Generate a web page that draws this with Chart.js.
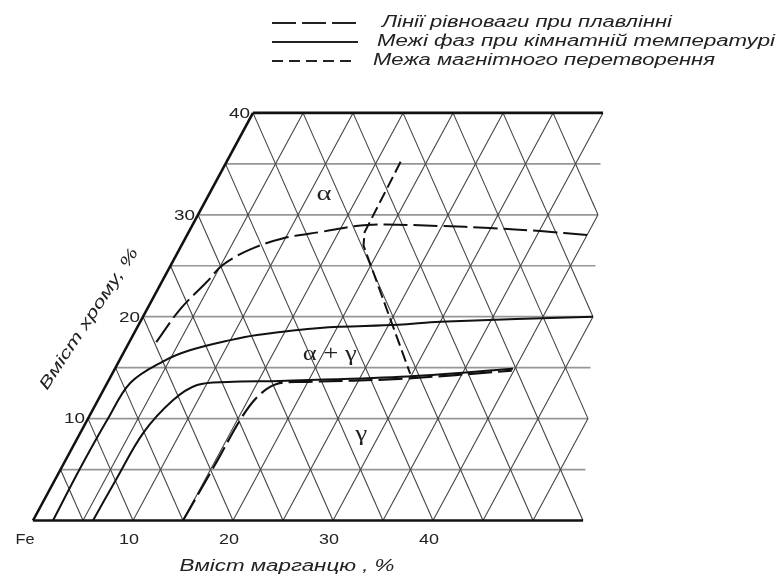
<!DOCTYPE html>
<html>
<head>
<meta charset="utf-8">
<script src="https://cdn.jsdelivr.net/npm/chart.js@4"></script>
<style>
  html, body { margin: 0; padding: 0; background: #fff; }
  #wrap { width: 779px; height: 579px; position: relative; }
</style>
</head>
<body>
<div id="wrap"><canvas id="phaseChart"></canvas></div>
<script>
// Fe-Cr-Mn diagram: Mn % along the bottom, Cr % along the slanted left side

// grid levels
const crLevels = [0, 5, 10, 15, 20, 25, 30, 35, 40];
const mnLevels = [0, 5, 10, 15, 20, 25, 30, 35, 40, 45, 50];
const sumLevels = [5, 10, 15, 20, 25, 30, 35, 40, 45, 50, 55, 60, 65, 70]; // lines Mn + Cr = const
const edgeLimit = 55; // right edge of the grid: Mn + Cr/2 = 55

// tick labels
const crTicks = [10, 20, 30, 40];
const crTickLabels = ["10", "20", "30", "40"];
const mnTicks = [0, 10, 20, 30, 40];
const mnTickLabels = ["Fe", "10", "20", "30", "40"];

// melting equilibrium lines (long dash)
const meltUpperMn = [2.7, 3.3, 4.5, 5.2, 7.1, 9.8, 13.1, 17.5, 24.8, 29.9, 35.1, 40.1];
const meltUpperCr = [17.5, 20.7, 23.4, 25.1, 26.6, 27.7, 28.3, 29.0, 28.9, 28.7, 28.4, 28.0];
const meltLowerMn = [15.0, 15.2, 15.3, 15.8, 17.0, 20.0, 29.0, 39.8];
const meltLowerCr = [0, 6, 10, 12.2, 13.4, 13.6, 13.9, 14.7];

// phase boundaries at room temperature (solid)
const roomOuterMn = [2.0, 1.9, 2.0, 2.3, 4.4, 6.5, 10.0, 12.4, 18.3, 26.0, 30.0, 45.0];
const roomOuterCr = [0, 5, 10, 13.5, 15.6, 16.7, 17.7, 18.2, 18.9, 19.2, 19.5, 20.0];
const roomInnerMn = [6.0, 6.1, 6.3, 7.5, 9.1, 12.0, 17.2, 29.0, 39.8];
const roomInnerCr = [0, 4, 8.6, 11.8, 13.3, 13.6, 13.7, 14.1, 14.9];

// magnetic transformation (short dash)
const magMn = [17.4, 17.6, 18.2, 29.8];
const magCr = [35.2, 28.3, 27.0, 14.4];

// phase field labels
const phaseLabels = ["α", "α + γ", "γ"];
const phaseMn = [11.5, 20.7, 28.2];
const phaseCr = [32.0, 16.3, 8.4];

// slanted axes -> plain x/y
const skew = 0.55;
function xy(mn, cr) {
  return { x: mn + skew * cr, y: cr };
}
function series(mns, crs) {
  return mns.map((m, i) => xy(m, crs[i]));
}

// pixel frame: Fe corner at (33, 520.5), 10 px per % Mn, 10.19 px per % Cr
const frame = { x0: 33, y0: 520.5, sx: 10, sy: 10.19, w: 779, h: 579 };

function seg(points, color, width, order, dash) {
  return {
    data: points,
    showLine: true,
    borderColor: color,
    borderWidth: width,
    borderDash: dash || [],
    pointRadius: 0,
    tension: 0,
    fill: false,
    order: order,
  };
}

const datasets = [];

// horizontal lines (constant Cr)
crLevels.forEach((cr) => {
  const edge = cr === 0 || cr === 40;
  datasets.push(seg([xy(0, cr), xy(edgeLimit - cr / 2, cr)],
    edge ? "#111" : "#969696", edge ? 2.6 : 1.7, edge ? 1 : 4));
});

// lines of constant Mn (parallel to the Cr side)
mnLevels.forEach((mn) => {
  const top = Math.min(40, 2 * (edgeLimit - mn));
  const edge = mn === 0;
  datasets.push(seg([xy(mn, 0), xy(mn, top)],
    edge ? "#111" : "#444", edge ? 2.6 : 1.1, edge ? 1 : 3));
});

// lines of constant Mn + Cr
sumLevels.forEach((s) => {
  const lo = Math.max(0, 2 * (s - edgeLimit));
  const hi = Math.min(40, s);
  if (hi <= lo) return;
  datasets.push(seg([xy(s - lo, lo), xy(s - hi, hi)], "#444", 1.1, 3));
});

// curves
const meltDash = [24, 6];
const magDash = [12, 5];
datasets.push(Object.assign(seg(series(meltUpperMn, meltUpperCr), "#111", 2, 0, meltDash), { tension: 0.35 }));
datasets.push(Object.assign(seg(series(meltLowerMn, meltLowerCr), "#111", 2.2, 0, meltDash), { tension: 0.35 }));
datasets.push(Object.assign(seg(series(roomOuterMn, roomOuterCr), "#111", 2, 0), { tension: 0.35 }));
datasets.push(Object.assign(seg(series(roomInnerMn, roomInnerCr), "#111", 2, 0), { tension: 0.35 }));
datasets.push(seg(series(magMn, magCr), "#111", 2, 0, magDash));

function fitText(ctx, text, x, y, width, font, align) {
  ctx.save();
  ctx.font = font;
  const s = width / ctx.measureText(text).width;
  ctx.translate(x, y);
  ctx.scale(s, 1);
  ctx.textAlign = align;
  ctx.textBaseline = "middle";
  ctx.fillText(text, 0, 0);
  ctx.restore();
}

const labelsPlugin = {
  id: "phaseText",
  afterDraw(chart) {
    const ctx = chart.ctx;
    const sx = chart.scales.x;
    const sy = chart.scales.y;
    const px = (p) => [sx.getPixelForValue(p.x), sy.getPixelForValue(p.y)];
    ctx.save();
    ctx.fillStyle = "#222";

    // legend
    const legendRows = [
      { text: "Лінії рівноваги при плавлінні", y: 23, tx: 382, tw: 290, dash: meltDash, x2: 358 },
      { text: "Межі фаз при кімнатній температурі", y: 42, tx: 377, tw: 398, dash: [], x2: 358 },
      { text: "Межа магнітного перетворення", y: 61, tx: 373, tw: 342, dash: [11, 6], x2: 352 },
    ];
    legendRows.forEach((r) => {
      ctx.save();
      ctx.strokeStyle = "#222";
      ctx.lineWidth = 2;
      ctx.setLineDash(r.dash);
      ctx.beginPath();
      ctx.moveTo(272, r.y);
      ctx.lineTo(r.x2, r.y);
      ctx.stroke();
      ctx.restore();
      fitText(ctx, r.text, r.tx, r.y, r.tw, "italic 16px 'Liberation Sans', Arial, sans-serif", "left");
    });

    // Cr ticks on the slanted side
    crTicks.forEach((cr, i) => {
      const [x, y] = px(xy(0, cr));
      fitText(ctx, crTickLabels[i], x - 3, y + 1, 21, "14px 'Liberation Sans', Arial, sans-serif", "right");
    });

    // Mn ticks under the base
    mnTicks.forEach((mn, i) => {
      const [x] = px(xy(mn, 0));
      const w = mnTickLabels[i] === "Fe" ? 19 : 20;
      const off = mnTickLabels[i] === "Fe" ? -8 : -4;
      fitText(ctx, mnTickLabels[i], x + off, 540, w, "14px 'Liberation Sans', Arial, sans-serif", "center");
    });

    // axis titles
    fitText(ctx, "Вміст марганцю , %", 287, 567, 215, "italic 16px 'Liberation Sans', Arial, sans-serif", "center");
    ctx.save();
    ctx.translate(89, 319);
    ctx.rotate(-56.5 * Math.PI / 180);
    fitText(ctx, "Вміст хрому, %", 0, 0, 166, "italic 16px 'Liberation Sans', Arial, sans-serif", "center");
    ctx.restore();

    // phase fields
    const widths = [15, 54, 12];
    phaseLabels.forEach((t, i) => {
      const [x, y] = px(xy(phaseMn[i], phaseCr[i]));
      fitText(ctx, t, x, y, widths[i], "20px 'Liberation Serif', 'Times New Roman', serif", "center");
    });
    ctx.restore();
  },
};

new Chart(document.getElementById("phaseChart"), {
  type: "scatter",
  data: { datasets: datasets },
  options: {
    responsive: true,
    maintainAspectRatio: false,
    animation: false,
    layout: { padding: 0 },
    plugins: {
      legend: { display: false },
      tooltip: { enabled: false },
    },
    scales: {
      x: {
        display: false,
        min: -frame.x0 / frame.sx,
        max: (frame.w - frame.x0) / frame.sx,
      },
      y: {
        display: false,
        min: -(frame.h - frame.y0) / frame.sy,
        max: frame.y0 / frame.sy,
      },
    },
  },
  plugins: [labelsPlugin],
});
</script>
</body>
</html>
